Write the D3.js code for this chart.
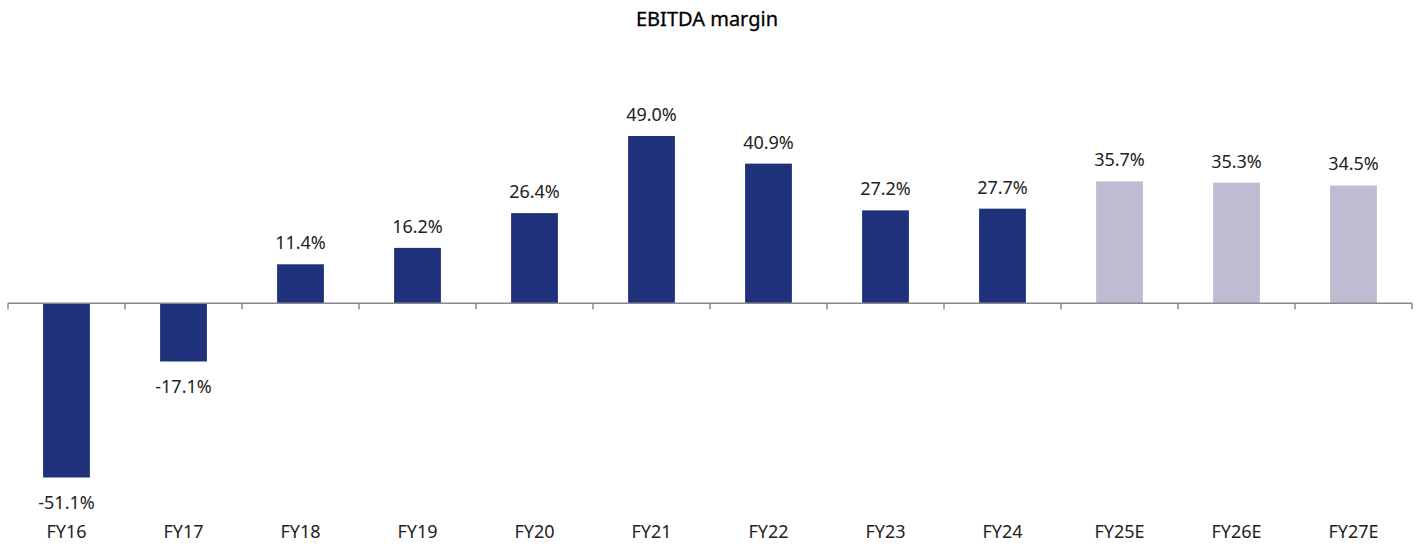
<!DOCTYPE html>
<html><head><meta charset="utf-8">
<script src="https://cdn.jsdelivr.net/npm/d3@7"></script>
<style>body{margin:0;background:#fff;}svg{display:block;font-family:"Noto Sans",sans-serif;}</style>
</head><body><svg id="c" width="1424" height="544"></svg>
<script>
const categories = ["FY16","FY17","FY18","FY19","FY20","FY21","FY22","FY23","FY24","FY25E","FY26E","FY27E"];
const values = [-51.1,-17.1,11.4,16.2,26.4,49.0,40.9,27.2,27.7,35.7,35.3,34.5];
const isEstimate = [false,false,false,false,false,false,false,false,false,true,true,true];
const title = "EBITDA margin";

const svg = d3.select("#c");
const x = d3.scaleBand().domain(categories).range([8,1412]).paddingInner(0.6).paddingOuter(0.3);
const xAxisScale = d3.scaleBand().domain(categories).range([8,1412]);
const y = d3.scaleLinear().domain([-51.1,49.0]).range([477.5,136]);

svg.append("text").attr("x",707).attr("y",26).attr("text-anchor","middle")
  .attr("font-size",20).attr("fill","#000").attr("stroke","#000").attr("stroke-width",0.3).text(title);

svg.selectAll("rect.bar").data(categories).join("rect")
  .attr("x",d=>x(d)).attr("width",x.bandwidth())
  .attr("y",(d,i)=>y(Math.max(0,values[i])))
  .attr("height",(d,i)=>Math.abs(y(values[i])-y(0)))
  .attr("fill",(d,i)=>isEstimate[i]?"#BEBCD3":"#20317C");

const y0 = y(0);
const g = svg.append("g");
g.append("line").attr("x1",8).attr("x2",1412).attr("y1",y0).attr("y2",y0)
  .attr("stroke","#8a8a8a").attr("stroke-width",1.5);
const bounds = categories.map(c=>xAxisScale(c)).concat([1412]);
g.selectAll("line.tick").data(bounds).join("line")
  .attr("x1",d=>d).attr("x2",d=>d).attr("y1",y0).attr("y2",y0+6)
  .attr("stroke","#8a8a8a").attr("stroke-width",1.5);

svg.selectAll("text.val").data(categories).join("text")
  .attr("x",d=>x(d)+x.bandwidth()/2)
  .attr("y",(d,i)=>values[i]>=0 ? y(values[i])-15 : y(values[i])+31)
  .attr("text-anchor","middle").attr("font-size",18).attr("fill","#222")
  .text((d,i)=>values[i].toFixed(1)+"%");

svg.selectAll("text.cat").data(categories).join("text")
  .attr("x",d=>x(d)+x.bandwidth()/2).attr("y",538)
  .attr("text-anchor","middle").attr("font-size",18).attr("fill","#222")
  .text(d=>d);
</script></body></html>
